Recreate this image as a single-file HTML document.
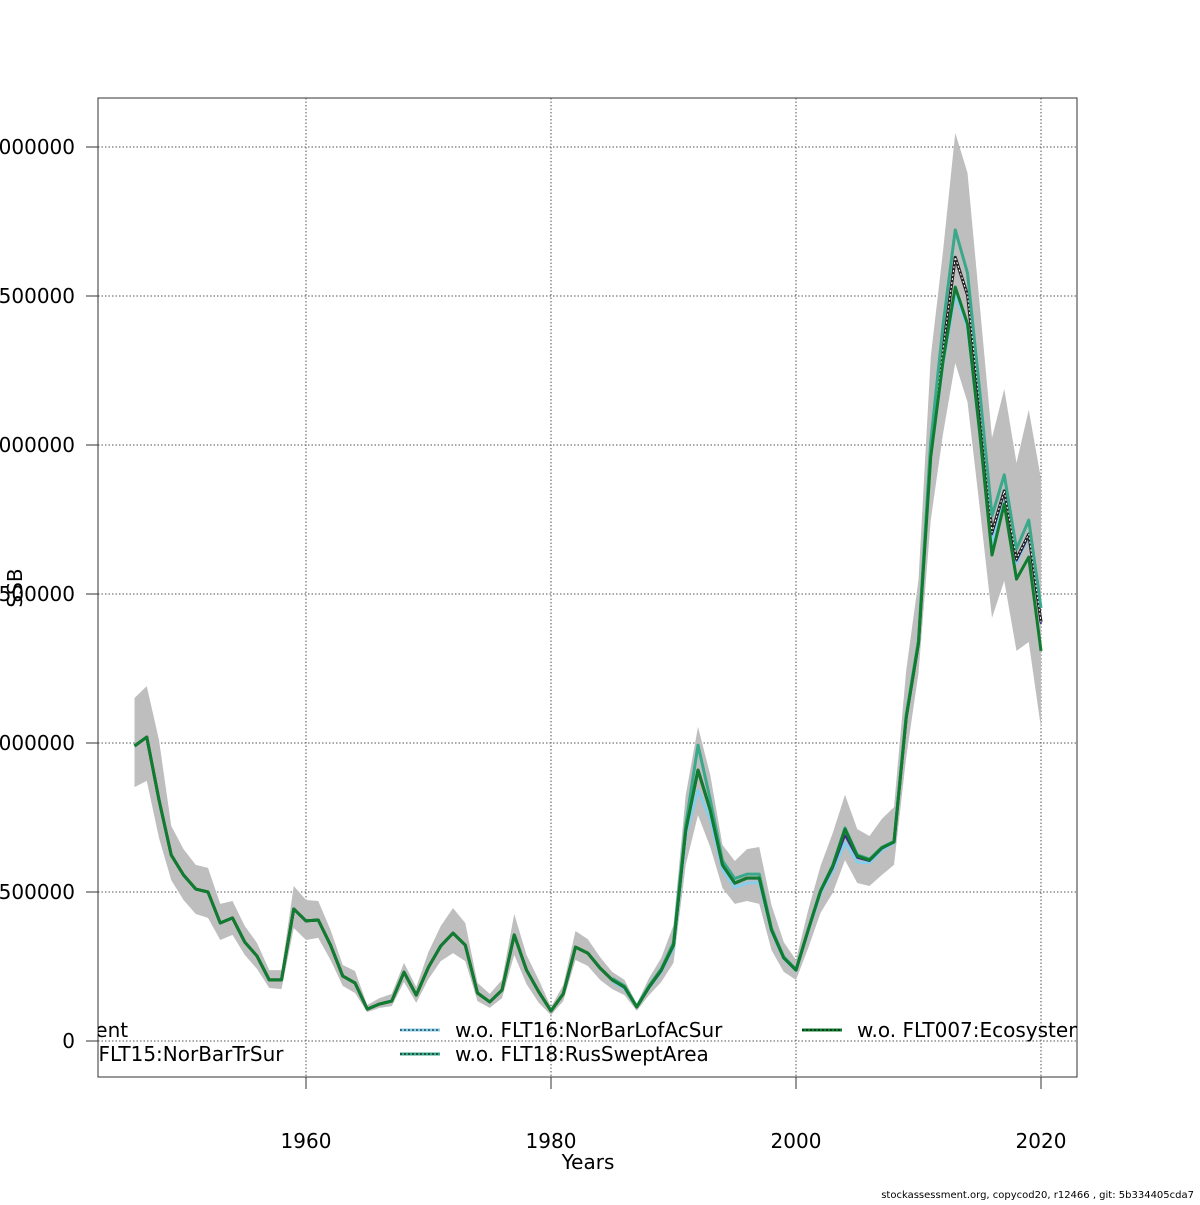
<!DOCTYPE html>
<html><head><meta charset="utf-8"><style>
body{margin:0;background:#fff}
svg text{font-family:"DejaVu Sans","Liberation Sans",sans-serif}
</style></head><body>
<svg id="chart" width="1200" height="1200" viewBox="0 0 1200 1200" xmlns="http://www.w3.org/2000/svg">
<defs><clipPath id="plotclip"><rect x="98" y="98" width="979" height="979"/></clipPath></defs>
<g id="grid"></g>
<g id="band" clip-path="url(#plotclip)"></g>
<g id="lines" clip-path="url(#plotclip)"></g>
<rect x="98" y="98" width="979" height="979" fill="none" stroke="#333" stroke-width="1"/>
<g id="axes"></g>
<g id="legend" clip-path="url(#plotclip)"></g>
<text x="588" y="1169" font-size="20" text-anchor="middle">Years</text>
<text x="22" y="588" font-size="20" text-anchor="middle" transform="rotate(-90 22 588)">SSB</text>
<text x="1194" y="1198" font-size="10" text-anchor="end">stockassessment.org, copycod20, r12466 , git: 5b334405cda7</text>
</svg>
<script>
const years = [];
for (let y = 1946; y <= 2020; y++) years.push(y);
const ssbBase = [990,1020,809,624,557,510,500,396,413,332,285,205,205,443,403,406,322,218,195,107,124,134,231,154,248,319,362,322,161,131,171,356,238,165,101,158,315,295,245,205,181,114,181,238,322,708,909,775,591,530,547,547,373,279,238,373,503,587,711,621,607,648,668,1087,1336,1990,2322,2630,2504,2131,1708,1846,1618,1701,1406];
const ciUpper = [1151,1191,1010,722,644,591,581,460,470,386,329,238,238,520,473,470,373,255,235,121,144,158,262,181,299,386,446,396,195,158,205,426,289,205,114,188,369,342,282,232,205,124,211,279,389,826,1054,893,658,604,644,651,456,332,272,440,587,698,826,711,688,745,785,1245,1547,2296,2650,3047,2913,2470,2024,2188,1940,2118,1886];
const ciLower = [852,873,681,540,473,426,413,339,356,289,242,178,174,379,339,346,272,185,161,97,111,117,198,128,208,268,295,268,134,111,144,289,191,128,87,134,272,252,205,174,154,101,154,198,262,591,758,651,513,460,470,460,305,232,205,312,430,497,607,530,520,557,591,953,1235,1748,2037,2275,2144,1789,1420,1544,1309,1339,1050];
const ssbFlt007 = [990,1020,809,624,557,510,500,396,413,332,285,205,205,443,403,406,322,218,195,107,124,134,231,154,248,319,362,322,161,131,171,356,238,165,101,158,315,295,245,205,181,114,181,238,322,708,909,775,591,530,547,547,373,279,238,373,503,587,711,621,607,648,668,1087,1336,1960,2280,2530,2406,2040,1631,1802,1550,1624,1309];
const altYears = [1985,1986,1987,1988,1989,1990,1991,1992,1993,1994,1995,1996,1997,1998,1999,2000,2001,2002,2003,2004,2005,2006,2007,2008,2009,2010,2011,2012,2013,2014,2015,2016,2017,2018,2019,2020];
const ssbFlt15 = [205,178,114,178,234,318,700,905,772,588,528,545,545,371,278,238,373,500,580,690,615,604,645,668,1087,1336,1985,2318,2625,2498,2125,1700,1840,1612,1695,1400];
const ssbFlt16 = [200,176,114,178,232,312,690,842,745,575,515,530,532,368,276,236,368,495,570,665,600,598,640,665,1085,1336,1970,2270,2504,2395,2040,1668,1839,1604,1695,1406];
const ssbFlt18 = [210,185,116,185,242,330,725,993,810,605,545,560,560,378,282,240,375,505,590,715,625,610,650,670,1095,1345,2010,2400,2722,2577,2180,1762,1900,1651,1748,1453];
const xTicks = [1960,1980,2000,2020];
const yTicks = [0,500,1000,1500,2000,2500,3000];
const yTickLabels = ["0","500000","1000000","1500000","2000000","2500000","3000000"];
const legendLabels = ["Current","w.o. FLT15:NorBarTrSur","w.o. FLT16:NorBarLofAcSur","w.o. FLT18:RusSweptArea","w.o. FLT007:Ecosystem"];

const NS = "http://www.w3.org/2000/svg";
const X = yr => 306 + (yr - 1960) * 12.25;
const Y = v => 1041 - v * 149 / 500;
function mk(tag, attrs, parent){const e=document.createElementNS(NS,tag);for(const k in attrs)e.setAttribute(k,attrs[k]);parent.appendChild(e);return e;}
const grid=document.getElementById('grid'), axes=document.getElementById('axes');
xTicks.forEach(t=>{
  const l=mk('line',{x1:X(t),x2:X(t),y1:98,y2:1077,stroke:'#555','stroke-width':1,'stroke-dasharray':'1.5,2'},grid);
  
  
  const tk=mk('line',{x1:X(t),x2:X(t),y1:1077,y2:1089,stroke:'#333'},axes);
  
  
  const tx=mk('text',{x:X(t),y:1148,'font-size':20,'text-anchor':'middle'},axes);tx.textContent=t;
  
  
});
yTicks.forEach((t,i)=>{
  const l=mk('line',{x1:98,x2:1077,y1:Y(t),y2:Y(t),stroke:'#555','stroke-width':1,'stroke-dasharray':'1.5,2'},grid);
  
  
  const tk=mk('line',{x1:86,x2:98,y1:Y(t),y2:Y(t),stroke:'#333'},axes);
  
  
  const tx=mk('text',{x:75,y:Y(t)+7,'font-size':20,'text-anchor':'end'},axes);tx.textContent=yTickLabels[i];
  
  
});
let d='';
years.forEach((y,i)=>{d+=(i?'L':'M')+X(y)+','+Y(ciUpper[i]);});
for(let i=years.length-1;i>=0;i--)d+='L'+X(years[i])+','+Y(ciLower[i]);
const band=mk('path',{d:d+'Z',fill:'#bebebe',stroke:'none'},document.getElementById('band'));


const lines=document.getElementById('lines');
function line(ys,vals,color,w,dash,name){
  const p=ys.map((y,i)=>X(y)+','+Y(vals[i])).join(' ');
  const e=mk('polyline',{points:p,fill:'none',stroke:color,'stroke-width':w,'stroke-linejoin':'round'},lines);
  if(dash)e.setAttribute('stroke-dasharray',dash);
  
  
}
line(altYears,ssbFlt16,'#87ceeb',3,null,'line-flt16');
line(altYears,ssbFlt15,'#3b2e8c',2,null,'line-flt15');
line(years,ssbBase,'#222',3,null,'line-current');
line(years,ssbBase,'#fff',1,'2,2','line-current-dots');
line(altYears,ssbFlt18,'#3aa88a',3,null,'line-flt18');
line(years,ssbFlt007,'#107c30',3,null,'line-flt007');
const lg=document.getElementById('legend');
const legPos=[[53,1031,'#222'],[53,1055,'#3b2e8c'],[455,1031,'#87ceeb'],[455,1055,'#3aa88a'],[857,1031,'#107c30']];
legendLabels.forEach((lab,i)=>{
  const [x,y,c]=legPos[i];
  const l=mk('line',{x1:x-55,x2:x-15,y1:y-1,y2:y-1,stroke:c,'stroke-width':3},lg);
  
  
  const l2=mk('line',{x1:x-55,x2:x-15,y1:y-1,y2:y-1,stroke:'#000','stroke-width':1,'stroke-dasharray':'2,2'},lg);
  
  
  const t=mk('text',{x:x,y:y+6,'font-size':20},lg);t.textContent=lab;
  
  
});
</script>
</body></html>
